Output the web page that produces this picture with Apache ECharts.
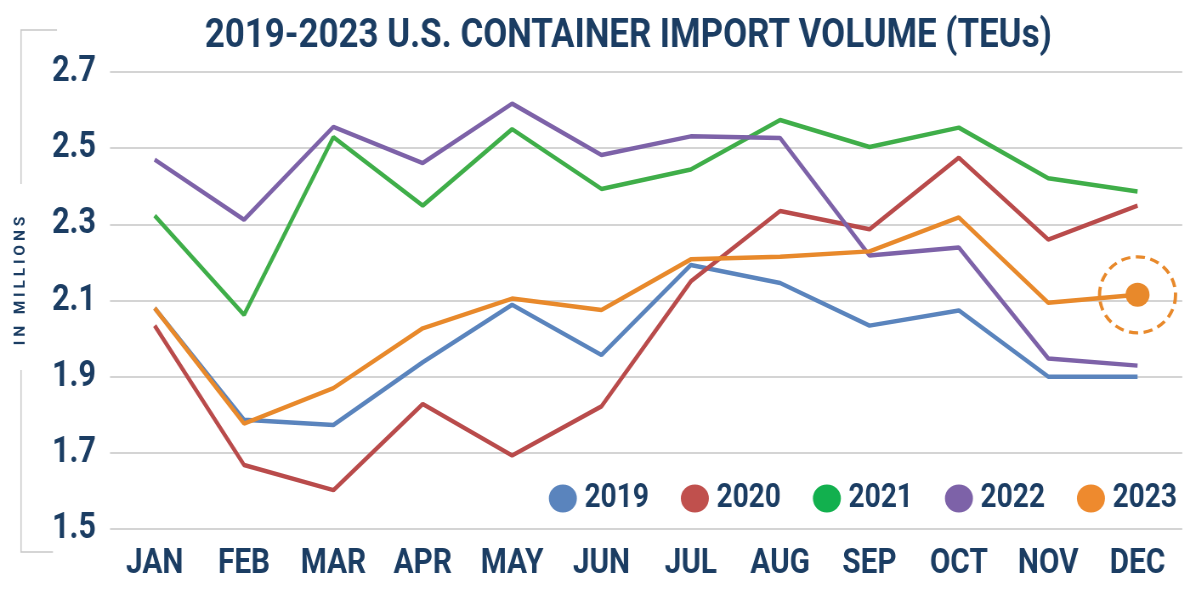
<!DOCTYPE html>
<html>
<head>
<meta charset="utf-8">
<script src="https://cdn.jsdelivr.net/npm/echarts@6/dist/echarts.min.js"></script>
<style>
html,body{margin:0;padding:0;background:#fff;overflow:hidden}
#wrap{width:1200px;height:596px;overflow:hidden}
#c{height:596px;transform-origin:0 0}
</style>
</head>
<body>
<div id="wrap"><div id="c"></div></div>
<script>
const months = ['JAN','FEB','MAR','APR','MAY','JUN','JUL','AUG','SEP','OCT','NOV','DEC'];
const y2019 = [2.08, 1.787, 1.773, 1.938, 2.089, 1.957, 2.193, 2.146, 2.034, 2.074, 1.90, 1.90];
const y2020 = [2.034, 1.668, 1.602, 1.828, 1.693, 1.822, 2.15, 2.335, 2.287, 2.475, 2.26, 2.349];
const y2021 = [2.323, 2.062, 2.529, 2.349, 2.55, 2.393, 2.444, 2.574, 2.503, 2.554, 2.421, 2.386];
const y2022 = [2.47, 2.312, 2.556, 2.461, 2.617, 2.482, 2.531, 2.527, 2.218, 2.239, 1.948, 1.929];
const y2023 = [2.08, 1.777, 1.870, 2.027, 2.105, 2.075, 2.208, 2.215, 2.229, 2.318, 2.094, 2.115];
const years = ['2019','2020','2021','2022','2023'];
const yTicks = [1.5, 1.7, 1.9, 2.1, 2.3, 2.5, 2.7];

// horizontal condensing factor (emulates a condensed bold face)
const S = 0.85;
const X = v => v / S;
const el = document.getElementById('c');
el.style.width = X(1200) + 'px';
el.style.transform = 'scaleX(' + S + ')';

const FONT = 'Roboto, "Noto Sans", sans-serif';
const NAVY = '#1b3d63';
const colors = ['#5a84bd', '#b94b4b', '#3fae49', '#7d62a8', '#e8892b'];
const legendColors = ['#5a84bd', '#c0504d', '#12b04e', '#7d62a8', '#ee8a2e'];
const allData = [y2019, y2020, y2021, y2022, y2023];

// ellipse that becomes a circle after the horizontal condensing
const rx = 50 / S;
const ellipseIcon = 'path://M0,50 A' + rx + ',50 0 1,0 ' + (2 * rx) + ',50 A' + rx + ',50 0 1,0 0,50 Z';

const series = years.map((name, i) => {
  const s = {
    name: name,
    type: 'line',
    data: allData[i].map((v, j) => (i === 4 && j === 11)
      ? {value: v, symbol: 'circle', symbolSize: [X(24), 24]}
      : {value: v, symbol: 'none'}),
    lineStyle: {width: 4.5, color: colors[i]},
    itemStyle: {color: colors[i]},
    symbol: 'circle',
    symbolKeepAspect: false,
    showSymbol: true,
    z: 2 + (i === 4 ? 5 : i),
    emphasis: {disabled: true}
  };
  if (i === 4) {
    s.markPoint = {
      symbol: 'circle',
      symbolSize: [X(76), 76],
      symbolKeepAspect: false,
      silent: true,
      label: {show: false},
      itemStyle: {color: 'rgba(0,0,0,0)', borderColor: colors[4], borderWidth: 3.5, borderType: [10, 6]},
      data: [{coord: [11, y2023[11]]}]
    };
  }
  return s;
});

const chart = echarts.init(el, null, {renderer: 'canvas'});
chart.setOption({
  animation: false,
  backgroundColor: '#fff',
  title: {
    text: '2019-2023 U.S. CONTAINER IMPORT VOLUME (TEUs)',
    left: X(624), top: 11, textAlign: 'center',
    textStyle: {fontFamily: FONT, fontWeight: 'bold', fontSize: 41, color: NAVY}
  },
  legend: {
    data: years.map((y, i) => ({name: y, itemStyle: {color: legendColors[i]}})),
    icon: ellipseIcon,
    right: X(19), top: 477,
    itemWidth: X(28), itemHeight: 28, itemGap: X(32),
    textStyle: {fontFamily: FONT, fontWeight: 'bold', fontSize: 33, color: NAVY, padding: [0, 0, 0, 4]}
  },
  grid: {left: X(110), right: X(18), top: 72, bottom: 67},
  xAxis: {
    type: 'category',
    data: months,
    boundaryGap: true,
    axisLine: {show: false},
    axisTick: {show: false},
    axisLabel: {interval: 0, fontFamily: FONT, fontWeight: 'bold', fontSize: 35, color: NAVY, margin: 18}
  },
  yAxis: {
    type: 'value',
    min: yTicks[0], max: yTicks[yTicks.length - 1], interval: 0.2,
    axisLine: {show: false},
    axisTick: {show: false},
    splitLine: {lineStyle: {color: '#d4d4d4', width: 2}},
    axisLabel: {fontFamily: FONT, fontWeight: 'bold', fontSize: 36, color: NAVY, margin: X(14),
      formatter: v => v.toFixed(1)}
  },
  graphic: [
    {type: 'polyline', shape: {points: [[X(57), 30], [X(21), 30], [X(21), 184]]}, style: {stroke: '#c8c8c8', lineWidth: 1.5, fill: null}, silent: true},
    {type: 'polyline', shape: {points: [[X(21), 370], [X(21), 552], [X(53), 552]]}, style: {stroke: '#c8c8c8', lineWidth: 1.5, fill: null}, silent: true},
    {type: 'text', x: X(21), y: 281, rotation: Math.PI / 2, scaleY: 1 / S,
      style: {text: 'I N   M I L L I O N S', fontFamily: FONT, fontWeight: 'bold', fontSize: 15.5, fill: NAVY, align: 'center', verticalAlign: 'middle'}, silent: true}
  ],
  series: series
});
</script>
</body>
</html>
